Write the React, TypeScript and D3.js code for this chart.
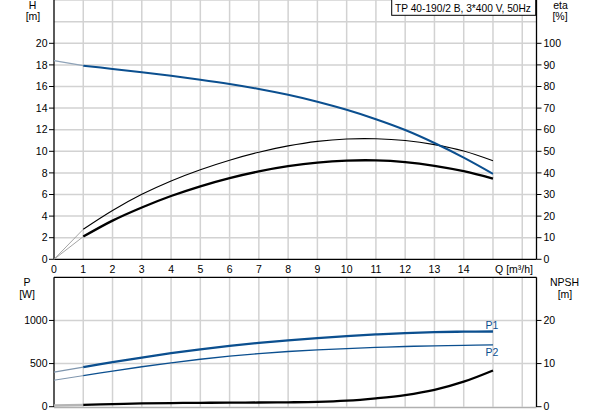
import React from "react";
import * as d3 from "d3";

const Q = [0, 1, 2, 3, 4, 5, 6, 7, 8, 9, 10, 11, 12, 13, 14, 15];
const H = [18.4, 17.93, 17.63, 17.32, 16.99, 16.63, 16.23, 15.77, 15.23, 14.59, 13.84, 12.97, 11.97, 10.77, 9.42, 7.92];
const ETA_PUMP = [0, 13.9, 22.6, 30.1, 36.3, 41.5, 45.9, 49.6, 52.5, 54.6, 55.7, 55.8, 55.0, 53.1, 50.1, 45.6];
const ETA_TOTAL = [0, 10.5, 17.9, 24.0, 29.3, 33.8, 37.6, 40.7, 43.1, 44.8, 45.7, 45.8, 45.0, 43.3, 40.8, 37.4];
const P1 = [400, 458, 516, 570, 620, 665, 705, 740, 770, 796, 819, 838, 853, 864, 870, 872];
const P2 = [307, 360, 413, 463, 509, 550, 586, 616, 640, 659, 674, 687, 698, 706, 712, 717];
const NPSH = [0.3, 0.4, 0.6, 0.75, 0.85, 0.9, 0.95, 0.97, 1.02, 1.12, 1.4, 1.95, 2.7, 3.9, 5.8, 8.4];

const X_TICKS = [0, 1, 2, 3, 4, 5, 6, 7, 8, 9, 10, 11, 12, 13, 14];
const H_TICKS = [0, 2, 4, 6, 8, 10, 12, 14, 16, 18, 20];
const ETA_TICKS = [0, 10, 20, 30, 40, 50, 60, 70, 80, 90, 100];
const P_TICKS = [0, 500, 1000];
const NPSH_TICKS = [0, 10, 20];
const TITLE = "TP 40-190/2 B, 3*400 V, 50Hz";

const BLUE = "#0b4f8f";
const GRID = "#d2d2d2";
const FONT = "'Liberation Sans', Arial, sans-serif";

export default function App() {
  const L = 54, R = 536.5;
  const x = d3.scaleLinear().domain([0, 16.47]).range([L, 536]);
  const yH = d3.scaleLinear().domain([0, 24]).range([259.3, 0.1]);
  const yEta = d3.scaleLinear().domain([0, 120]).range([259.3, 0.1]);
  const yP = d3.scaleLinear().domain([0, 1500]).range([406.7, 277.3]);
  const yN = d3.scaleLinear().domain([0, 30]).range([406.7, 277.3]);

  const mk = (ys: number[], ysc: d3.ScaleLinear<number, number>, from: number, to: number) => {
    const pts: [number, number][] = Q.map((q, i) => [x(q), ysc(ys[i])] as [number, number]).slice(from, to);
    return d3.line().curve(d3.curveCatmullRom.alpha(0.5))(pts) || "";
  };
  const main = (ys: number[], ysc: any) => mk(ys, ysc, 1, Q.length);
  const faded = (ys: number[], ysc: any) => mk(ys, ysc, 0, 2);

  const vGrid = d3.range(1, 17);
  const hGridTop = d3.range(2, 25, 2);
  const fs = 10.5;

  return (
    <svg width={593} height={415} style={{ position: "absolute", left: 0, top: 0, background: "#fff" }} fontFamily={FONT}>
      <rect x={0} y={0} width={593} height={415} fill="#fff" />
      {vGrid.map((q) => (
        <line key={"tv" + q} x1={x(q)} x2={x(q)} y1={0} y2={259.3} stroke={GRID} strokeWidth={1.5} />
      ))}
      {hGridTop.map((h) => (
        <line key={"th" + h} x1={L} x2={R} y1={yH(h)} y2={yH(h)} stroke={GRID} strokeWidth={1.5} />
      ))}
      {vGrid.map((q) => (
        <line key={"bv" + q} x1={x(q)} x2={x(q)} y1={277.3} y2={406.7} stroke={GRID} strokeWidth={1.5} />
      ))}
      {[500, 1000].map((p) => (
        <line key={"bh" + p} x1={L} x2={R} y1={yP(p)} y2={yP(p)} stroke={GRID} strokeWidth={1.5} />
      ))}
      <line x1={L} x2={R} y1={407.5} y2={407.5} stroke="#b0b0b0" strokeWidth={1.5} />

      <line x1={L} x2={L} y1={0} y2={259.3} stroke="#000" strokeWidth={1.3} />
      <line x1={R} x2={R} y1={0} y2={259.3} stroke="#000" strokeWidth={1.3} />
      <line x1={L} x2={R} y1={259.3} y2={259.3} stroke="#000" strokeWidth={1.3} />
      <line x1={L} x2={R} y1={277.3} y2={277.3} stroke="#000" strokeWidth={1.3} />
      <line x1={L} x2={L} y1={277.3} y2={407} stroke="#000" strokeWidth={1.3} />
      <line x1={R} x2={R} y1={277.3} y2={407} stroke="#000" strokeWidth={1.3} />

      {H_TICKS.map((h) => (
        <g key={"ht" + h}>
          <line x1={49} x2={L} y1={yH(h)} y2={yH(h)} stroke="#000" strokeWidth={1} />
          <text x={47.5} y={yH(h) + 3.7} fontSize={fs} textAnchor="end" fill="#000">{h}</text>
        </g>
      ))}
      {ETA_TICKS.map((e) => (
        <g key={"et" + e}>
          <line x1={R} x2={541.5} y1={yEta(e)} y2={yEta(e)} stroke="#000" strokeWidth={1} />
          <text x={543.5} y={yEta(e) + 3.7} fontSize={fs} textAnchor="start" fill="#000">{e}</text>
        </g>
      ))}
      {X_TICKS.map((q) => (
        <text key={"xt" + q} x={x(q)} y={272.5} fontSize={fs} textAnchor="middle" fill="#000">{q}</text>
      ))}
      <text x={533} y={272.5} fontSize={fs} textAnchor="end" fill="#000">Q [m³/h]</text>
      {P_TICKS.map((p) => (
        <g key={"pt" + p}>
          <line x1={49} x2={L} y1={yP(p)} y2={yP(p)} stroke="#000" strokeWidth={1} />
          <text x={47.5} y={yP(p) + 3.7} fontSize={fs} textAnchor="end" fill="#000">{p}</text>
        </g>
      ))}
      {NPSH_TICKS.map((n) => (
        <g key={"nt" + n}>
          <line x1={R} x2={541.5} y1={yN(n)} y2={yN(n)} stroke="#000" strokeWidth={1} />
          <text x={543.5} y={yN(n) + 3.7} fontSize={fs} textAnchor="start" fill="#000">{n}</text>
        </g>
      ))}

      <text x={32.5} y={8.5} fontSize={fs} textAnchor="middle" fill="#000">H</text>
      <text x={33} y={20} fontSize={fs} textAnchor="middle" fill="#000">[m]</text>
      <text x={560.5} y={8.5} fontSize={fs} textAnchor="middle" fill="#000">eta</text>
      <text x={560} y={20} fontSize={fs} textAnchor="middle" fill="#000">[%]</text>
      <text x={27} y={285.5} fontSize={fs} textAnchor="middle" fill="#000">P</text>
      <text x={27} y={297.5} fontSize={fs} textAnchor="middle" fill="#000">[W]</text>
      <text x={564.5} y={285.5} fontSize={fs} textAnchor="middle" fill="#000">NPSH</text>
      <text x={565} y={297.5} fontSize={fs} textAnchor="middle" fill="#000">[m]</text>

      <rect x={391.7} y={-1} width={144} height={16.3} fill="#fff" stroke="#000" strokeWidth={1} />
      <text x={395} y={11.8} fontSize={10.2} fill="#000">{TITLE}</text>

      <path d={faded(H, yH)} fill="none" stroke="#8fa3b8" strokeWidth={1.2} />
      <path d={faded(ETA_PUMP, yEta)} fill="none" stroke="#9a9a9a" strokeWidth={0.9} />
      <path d={faded(ETA_TOTAL, yEta)} fill="none" stroke="#9a9a9a" strokeWidth={0.9} />
      <path d={faded(P1, yP)} fill="none" stroke="#7e95ad" strokeWidth={1.2} />
      <path d={faded(P2, yP)} fill="none" stroke="#7e95ad" strokeWidth={1} />
      <path d={faded(NPSH, yN)} fill="none" stroke="#b5b5b5" strokeWidth={2.5} />

      <path d={main(ETA_PUMP, yEta)} fill="none" stroke="#000" strokeWidth={1.1} />
      <path d={main(ETA_TOTAL, yEta)} fill="none" stroke="#000" strokeWidth={2.3} />
      <path d={main(H, yH)} fill="none" stroke={BLUE} strokeWidth={2} />
      <path d={main(P1, yP)} fill="none" stroke={BLUE} strokeWidth={2.3} />
      <path d={main(P2, yP)} fill="none" stroke={BLUE} strokeWidth={1.3} />
      <path d={main(NPSH, yN)} fill="none" stroke="#000" strokeWidth={2.3} />

      <text x={492} y={329} fontSize={fs} textAnchor="middle" fill={BLUE}>P1</text>
      <text x={492} y={356} fontSize={fs} textAnchor="middle" fill={BLUE}>P2</text>
    </svg>
  );
}
